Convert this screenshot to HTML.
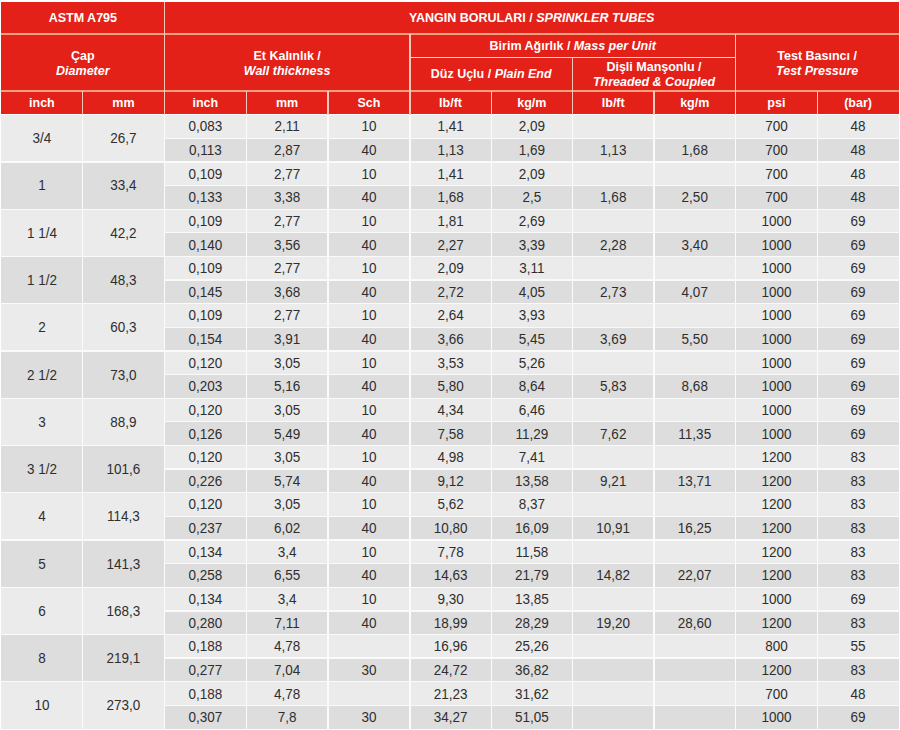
<!DOCTYPE html>
<html><head><meta charset="utf-8"><style>
html,body{margin:0;padding:0;background:#fff;width:900px;height:730px;overflow:hidden}
body{position:relative;font-family:"Liberation Sans",sans-serif}
.b{position:absolute}
.h,.t{position:absolute;display:flex;align-items:center;justify-content:center;text-align:center;white-space:nowrap}
.h{color:#fff;font-weight:bold;font-size:12.5px;line-height:14px}
.h2{line-height:15px;padding-top:2px;box-sizing:border-box}
.h i{font-style:italic}
.t{color:#2e2e2e;font-size:13.5px;line-height:14px}
.t span{display:inline-block;transform:translateY(0.8px) scaleY(1.08)}
</style></head><body>
<div class="b" style="left:1.3px;top:1.5px;width:897.5px;height:113.1px;background:#e32119;"></div>
<div class="b" style="left:164.4px;top:114.6px;width:734.4px;height:23.63px;background:#ebebeb;"></div>
<div class="b" style="left:164.4px;top:138.23px;width:734.4px;height:23.63px;background:#dddddd;"></div>
<div class="b" style="left:164.4px;top:161.86px;width:734.4px;height:23.63px;background:#ebebeb;"></div>
<div class="b" style="left:164.4px;top:185.49px;width:734.4px;height:23.63px;background:#dddddd;"></div>
<div class="b" style="left:164.4px;top:209.12px;width:734.4px;height:23.63px;background:#ebebeb;"></div>
<div class="b" style="left:164.4px;top:232.75px;width:734.4px;height:23.63px;background:#dddddd;"></div>
<div class="b" style="left:164.4px;top:256.38px;width:734.4px;height:23.63px;background:#ebebeb;"></div>
<div class="b" style="left:164.4px;top:280.01px;width:734.4px;height:23.63px;background:#dddddd;"></div>
<div class="b" style="left:164.4px;top:303.64px;width:734.4px;height:23.63px;background:#ebebeb;"></div>
<div class="b" style="left:164.4px;top:327.27px;width:734.4px;height:23.63px;background:#dddddd;"></div>
<div class="b" style="left:164.4px;top:350.9px;width:734.4px;height:23.63px;background:#ebebeb;"></div>
<div class="b" style="left:164.4px;top:374.53px;width:734.4px;height:23.63px;background:#dddddd;"></div>
<div class="b" style="left:164.4px;top:398.16px;width:734.4px;height:23.63px;background:#ebebeb;"></div>
<div class="b" style="left:164.4px;top:421.79px;width:734.4px;height:23.63px;background:#dddddd;"></div>
<div class="b" style="left:164.4px;top:445.42px;width:734.4px;height:23.63px;background:#ebebeb;"></div>
<div class="b" style="left:164.4px;top:469.05px;width:734.4px;height:23.63px;background:#dddddd;"></div>
<div class="b" style="left:164.4px;top:492.68px;width:734.4px;height:23.63px;background:#ebebeb;"></div>
<div class="b" style="left:164.4px;top:516.31px;width:734.4px;height:23.63px;background:#dddddd;"></div>
<div class="b" style="left:164.4px;top:539.94px;width:734.4px;height:23.63px;background:#ebebeb;"></div>
<div class="b" style="left:164.4px;top:563.57px;width:734.4px;height:23.63px;background:#dddddd;"></div>
<div class="b" style="left:164.4px;top:587.2px;width:734.4px;height:23.63px;background:#ebebeb;"></div>
<div class="b" style="left:164.4px;top:610.83px;width:734.4px;height:23.63px;background:#dddddd;"></div>
<div class="b" style="left:164.4px;top:634.46px;width:734.4px;height:23.63px;background:#ebebeb;"></div>
<div class="b" style="left:164.4px;top:658.09px;width:734.4px;height:23.63px;background:#dddddd;"></div>
<div class="b" style="left:164.4px;top:681.72px;width:734.4px;height:23.63px;background:#ebebeb;"></div>
<div class="b" style="left:164.4px;top:705.35px;width:734.4px;height:23.63px;background:#dddddd;"></div>
<div class="b" style="left:1.3px;top:114.6px;width:163.1px;height:47.26px;background:#ebebeb;"></div>
<div class="b" style="left:1.3px;top:161.86px;width:163.1px;height:47.26px;background:#dddddd;"></div>
<div class="b" style="left:1.3px;top:209.12px;width:163.1px;height:47.26px;background:#ebebeb;"></div>
<div class="b" style="left:1.3px;top:256.38px;width:163.1px;height:47.26px;background:#dddddd;"></div>
<div class="b" style="left:1.3px;top:303.64px;width:163.1px;height:47.26px;background:#ebebeb;"></div>
<div class="b" style="left:1.3px;top:350.9px;width:163.1px;height:47.26px;background:#dddddd;"></div>
<div class="b" style="left:1.3px;top:398.16px;width:163.1px;height:47.26px;background:#ebebeb;"></div>
<div class="b" style="left:1.3px;top:445.42px;width:163.1px;height:47.26px;background:#dddddd;"></div>
<div class="b" style="left:1.3px;top:492.68px;width:163.1px;height:47.26px;background:#ebebeb;"></div>
<div class="b" style="left:1.3px;top:539.94px;width:163.1px;height:47.26px;background:#dddddd;"></div>
<div class="b" style="left:1.3px;top:587.2px;width:163.1px;height:47.26px;background:#ebebeb;"></div>
<div class="b" style="left:1.3px;top:634.46px;width:163.1px;height:47.26px;background:#dddddd;"></div>
<div class="b" style="left:1.3px;top:681.72px;width:163.1px;height:47.26px;background:#ebebeb;"></div>
<div class="b" style="left:164.4px;top:137.63px;width:734.4px;height:1.3px;background:#fafafa;"></div>
<div class="b" style="left:1.3px;top:161.26px;width:897.5px;height:1.3px;background:#fafafa;"></div>
<div class="b" style="left:164.4px;top:184.89px;width:734.4px;height:1.3px;background:#fafafa;"></div>
<div class="b" style="left:1.3px;top:208.52px;width:897.5px;height:1.3px;background:#fafafa;"></div>
<div class="b" style="left:164.4px;top:232.15px;width:734.4px;height:1.3px;background:#fafafa;"></div>
<div class="b" style="left:1.3px;top:255.78px;width:897.5px;height:1.3px;background:#fafafa;"></div>
<div class="b" style="left:164.4px;top:279.41px;width:734.4px;height:1.3px;background:#fafafa;"></div>
<div class="b" style="left:1.3px;top:303.04px;width:897.5px;height:1.3px;background:#fafafa;"></div>
<div class="b" style="left:164.4px;top:326.67px;width:734.4px;height:1.3px;background:#fafafa;"></div>
<div class="b" style="left:1.3px;top:350.3px;width:897.5px;height:1.3px;background:#fafafa;"></div>
<div class="b" style="left:164.4px;top:373.93px;width:734.4px;height:1.3px;background:#fafafa;"></div>
<div class="b" style="left:1.3px;top:397.56px;width:897.5px;height:1.3px;background:#fafafa;"></div>
<div class="b" style="left:164.4px;top:421.19px;width:734.4px;height:1.3px;background:#fafafa;"></div>
<div class="b" style="left:1.3px;top:444.82px;width:897.5px;height:1.3px;background:#fafafa;"></div>
<div class="b" style="left:164.4px;top:468.45px;width:734.4px;height:1.3px;background:#fafafa;"></div>
<div class="b" style="left:1.3px;top:492.08px;width:897.5px;height:1.3px;background:#fafafa;"></div>
<div class="b" style="left:164.4px;top:515.71px;width:734.4px;height:1.3px;background:#fafafa;"></div>
<div class="b" style="left:1.3px;top:539.34px;width:897.5px;height:1.3px;background:#fafafa;"></div>
<div class="b" style="left:164.4px;top:562.97px;width:734.4px;height:1.3px;background:#fafafa;"></div>
<div class="b" style="left:1.3px;top:586.6px;width:897.5px;height:1.3px;background:#fafafa;"></div>
<div class="b" style="left:164.4px;top:610.23px;width:734.4px;height:1.3px;background:#fafafa;"></div>
<div class="b" style="left:1.3px;top:633.86px;width:897.5px;height:1.3px;background:#fafafa;"></div>
<div class="b" style="left:164.4px;top:657.49px;width:734.4px;height:1.3px;background:#fafafa;"></div>
<div class="b" style="left:1.3px;top:681.12px;width:897.5px;height:1.3px;background:#fafafa;"></div>
<div class="b" style="left:164.4px;top:704.75px;width:734.4px;height:1.3px;background:#fafafa;"></div>
<div class="b" style="left:1.3px;top:114.1px;width:897.5px;height:1.4px;background:#ffffff;"></div>
<div class="b" style="left:81.85px;top:114.6px;width:1.3px;height:614.38px;background:#fbfbfb;"></div>
<div class="b" style="left:163.75px;top:114.6px;width:1.3px;height:614.38px;background:#fbfbfb;"></div>
<div class="b" style="left:245.55px;top:114.6px;width:1.3px;height:614.38px;background:#fbfbfb;"></div>
<div class="b" style="left:327.25px;top:114.6px;width:1.3px;height:614.38px;background:#fbfbfb;"></div>
<div class="b" style="left:409.25px;top:114.6px;width:1.3px;height:614.38px;background:#fbfbfb;"></div>
<div class="b" style="left:490.55px;top:114.6px;width:1.3px;height:614.38px;background:#fbfbfb;"></div>
<div class="b" style="left:571.85px;top:114.6px;width:1.3px;height:614.38px;background:#fbfbfb;"></div>
<div class="b" style="left:653.35px;top:114.6px;width:1.3px;height:614.38px;background:#fbfbfb;"></div>
<div class="b" style="left:734.85px;top:114.6px;width:1.3px;height:614.38px;background:#fbfbfb;"></div>
<div class="b" style="left:816.65px;top:114.6px;width:1.3px;height:614.38px;background:#fbfbfb;"></div>
<div class="b" style="left:1.3px;top:33px;width:897.5px;height:2px;background:#f2a080;"></div>
<div class="b" style="left:1.3px;top:90px;width:897.5px;height:2px;background:#f2a080;"></div>
<div class="b" style="left:409.9px;top:56.8px;width:325.6px;height:1.4px;background:#fbd8c8;"></div>
<div class="b" style="left:81.85px;top:91px;width:1.3px;height:23.6px;background:#f8c8b8;"></div>
<div class="b" style="left:163.75px;top:1.5px;width:1.3px;height:113.1px;background:#f8c8b8;"></div>
<div class="b" style="left:245.55px;top:91px;width:1.3px;height:23.6px;background:#f8c8b8;"></div>
<div class="b" style="left:327.25px;top:91px;width:1.3px;height:23.6px;background:#f8c8b8;"></div>
<div class="b" style="left:409.25px;top:34px;width:1.3px;height:80.6px;background:#f8c8b8;"></div>
<div class="b" style="left:490.55px;top:91px;width:1.3px;height:23.6px;background:#f8c8b8;"></div>
<div class="b" style="left:571.85px;top:57.5px;width:1.3px;height:57.1px;background:#f8c8b8;"></div>
<div class="b" style="left:653.35px;top:91px;width:1.3px;height:23.6px;background:#f8c8b8;"></div>
<div class="b" style="left:734.85px;top:34px;width:1.3px;height:80.6px;background:#f8c8b8;"></div>
<div class="b" style="left:816.65px;top:91px;width:1.3px;height:23.6px;background:#f8c8b8;"></div>
<div class="h" style="left:1.3px;top:1.5px;width:163.1px;height:32.5px"><span>ASTM A795</span></div>
<div class="h" style="left:164.4px;top:1.5px;width:734.4px;height:32.5px"><span>YANGIN BORULARI / <i>SPRINKLER TUBES</i></span></div>
<div class="h h2" style="left:1.3px;top:34px;width:163.1px;height:57px"><span>Çap<br><i>Diameter</i></span></div>
<div class="h h2" style="left:164.4px;top:34px;width:245.5px;height:57px"><span>Et Kalınlık /<br><i>Wall thickness</i></span></div>
<div class="h" style="left:409.9px;top:34px;width:325.6px;height:23.5px"><span>Birim Ağırlık / <i>Mass per Unit</i></span></div>
<div class="h" style="left:409.9px;top:57.5px;width:162.6px;height:33.5px"><span>Düz Uçlu / <i>Plain End</i></span></div>
<div class="h h2" style="left:572.5px;top:57.5px;width:163px;height:33.5px"><span>Dişli Manşonlu /<br><i>Threaded &amp; Coupled</i></span></div>
<div class="h h2" style="left:735.5px;top:34px;width:163.3px;height:57px"><span>Test Basıncı /<br><i>Test Pressure</i></span></div>
<div class="h" style="left:1.3px;top:91px;width:81.2px;height:23.6px"><span>inch</span></div>
<div class="h" style="left:82.5px;top:91px;width:81.9px;height:23.6px"><span>mm</span></div>
<div class="h" style="left:164.4px;top:91px;width:81.8px;height:23.6px"><span>inch</span></div>
<div class="h" style="left:246.2px;top:91px;width:81.7px;height:23.6px"><span>mm</span></div>
<div class="h" style="left:327.9px;top:91px;width:82px;height:23.6px"><span>Sch</span></div>
<div class="h" style="left:409.9px;top:91px;width:81.3px;height:23.6px"><span>lb/ft</span></div>
<div class="h" style="left:491.2px;top:91px;width:81.3px;height:23.6px"><span>kg/m</span></div>
<div class="h" style="left:572.5px;top:91px;width:81.5px;height:23.6px"><span>lb/ft</span></div>
<div class="h" style="left:654px;top:91px;width:81.5px;height:23.6px"><span>kg/m</span></div>
<div class="h" style="left:735.5px;top:91px;width:81.8px;height:23.6px"><span>psi</span></div>
<div class="h" style="left:817.3px;top:91px;width:81.5px;height:23.6px"><span>(bar)</span></div>
<div class="t" style="left:1.3px;top:114.6px;width:81.2px;height:47.26px"><span>3/4</span></div>
<div class="t" style="left:82.5px;top:114.6px;width:81.9px;height:47.26px"><span>26,7</span></div>
<div class="t" style="left:164.4px;top:114.6px;width:81.8px;height:23.63px"><span>0,083</span></div>
<div class="t" style="left:246.2px;top:114.6px;width:81.7px;height:23.63px"><span>2,11</span></div>
<div class="t" style="left:327.9px;top:114.6px;width:82px;height:23.63px"><span>10</span></div>
<div class="t" style="left:409.9px;top:114.6px;width:81.3px;height:23.63px"><span>1,41</span></div>
<div class="t" style="left:491.2px;top:114.6px;width:81.3px;height:23.63px"><span>2,09</span></div>
<div class="t" style="left:735.5px;top:114.6px;width:81.8px;height:23.63px"><span>700</span></div>
<div class="t" style="left:817.3px;top:114.6px;width:81.5px;height:23.63px"><span>48</span></div>
<div class="t" style="left:164.4px;top:138.23px;width:81.8px;height:23.63px"><span>0,113</span></div>
<div class="t" style="left:246.2px;top:138.23px;width:81.7px;height:23.63px"><span>2,87</span></div>
<div class="t" style="left:327.9px;top:138.23px;width:82px;height:23.63px"><span>40</span></div>
<div class="t" style="left:409.9px;top:138.23px;width:81.3px;height:23.63px"><span>1,13</span></div>
<div class="t" style="left:491.2px;top:138.23px;width:81.3px;height:23.63px"><span>1,69</span></div>
<div class="t" style="left:572.5px;top:138.23px;width:81.5px;height:23.63px"><span>1,13</span></div>
<div class="t" style="left:654px;top:138.23px;width:81.5px;height:23.63px"><span>1,68</span></div>
<div class="t" style="left:735.5px;top:138.23px;width:81.8px;height:23.63px"><span>700</span></div>
<div class="t" style="left:817.3px;top:138.23px;width:81.5px;height:23.63px"><span>48</span></div>
<div class="t" style="left:1.3px;top:161.86px;width:81.2px;height:47.26px"><span>1</span></div>
<div class="t" style="left:82.5px;top:161.86px;width:81.9px;height:47.26px"><span>33,4</span></div>
<div class="t" style="left:164.4px;top:161.86px;width:81.8px;height:23.63px"><span>0,109</span></div>
<div class="t" style="left:246.2px;top:161.86px;width:81.7px;height:23.63px"><span>2,77</span></div>
<div class="t" style="left:327.9px;top:161.86px;width:82px;height:23.63px"><span>10</span></div>
<div class="t" style="left:409.9px;top:161.86px;width:81.3px;height:23.63px"><span>1,41</span></div>
<div class="t" style="left:491.2px;top:161.86px;width:81.3px;height:23.63px"><span>2,09</span></div>
<div class="t" style="left:735.5px;top:161.86px;width:81.8px;height:23.63px"><span>700</span></div>
<div class="t" style="left:817.3px;top:161.86px;width:81.5px;height:23.63px"><span>48</span></div>
<div class="t" style="left:164.4px;top:185.49px;width:81.8px;height:23.63px"><span>0,133</span></div>
<div class="t" style="left:246.2px;top:185.49px;width:81.7px;height:23.63px"><span>3,38</span></div>
<div class="t" style="left:327.9px;top:185.49px;width:82px;height:23.63px"><span>40</span></div>
<div class="t" style="left:409.9px;top:185.49px;width:81.3px;height:23.63px"><span>1,68</span></div>
<div class="t" style="left:491.2px;top:185.49px;width:81.3px;height:23.63px"><span>2,5</span></div>
<div class="t" style="left:572.5px;top:185.49px;width:81.5px;height:23.63px"><span>1,68</span></div>
<div class="t" style="left:654px;top:185.49px;width:81.5px;height:23.63px"><span>2,50</span></div>
<div class="t" style="left:735.5px;top:185.49px;width:81.8px;height:23.63px"><span>700</span></div>
<div class="t" style="left:817.3px;top:185.49px;width:81.5px;height:23.63px"><span>48</span></div>
<div class="t" style="left:1.3px;top:209.12px;width:81.2px;height:47.26px"><span>1 1/4</span></div>
<div class="t" style="left:82.5px;top:209.12px;width:81.9px;height:47.26px"><span>42,2</span></div>
<div class="t" style="left:164.4px;top:209.12px;width:81.8px;height:23.63px"><span>0,109</span></div>
<div class="t" style="left:246.2px;top:209.12px;width:81.7px;height:23.63px"><span>2,77</span></div>
<div class="t" style="left:327.9px;top:209.12px;width:82px;height:23.63px"><span>10</span></div>
<div class="t" style="left:409.9px;top:209.12px;width:81.3px;height:23.63px"><span>1,81</span></div>
<div class="t" style="left:491.2px;top:209.12px;width:81.3px;height:23.63px"><span>2,69</span></div>
<div class="t" style="left:735.5px;top:209.12px;width:81.8px;height:23.63px"><span>1000</span></div>
<div class="t" style="left:817.3px;top:209.12px;width:81.5px;height:23.63px"><span>69</span></div>
<div class="t" style="left:164.4px;top:232.75px;width:81.8px;height:23.63px"><span>0,140</span></div>
<div class="t" style="left:246.2px;top:232.75px;width:81.7px;height:23.63px"><span>3,56</span></div>
<div class="t" style="left:327.9px;top:232.75px;width:82px;height:23.63px"><span>40</span></div>
<div class="t" style="left:409.9px;top:232.75px;width:81.3px;height:23.63px"><span>2,27</span></div>
<div class="t" style="left:491.2px;top:232.75px;width:81.3px;height:23.63px"><span>3,39</span></div>
<div class="t" style="left:572.5px;top:232.75px;width:81.5px;height:23.63px"><span>2,28</span></div>
<div class="t" style="left:654px;top:232.75px;width:81.5px;height:23.63px"><span>3,40</span></div>
<div class="t" style="left:735.5px;top:232.75px;width:81.8px;height:23.63px"><span>1000</span></div>
<div class="t" style="left:817.3px;top:232.75px;width:81.5px;height:23.63px"><span>69</span></div>
<div class="t" style="left:1.3px;top:256.38px;width:81.2px;height:47.26px"><span>1 1/2</span></div>
<div class="t" style="left:82.5px;top:256.38px;width:81.9px;height:47.26px"><span>48,3</span></div>
<div class="t" style="left:164.4px;top:256.38px;width:81.8px;height:23.63px"><span>0,109</span></div>
<div class="t" style="left:246.2px;top:256.38px;width:81.7px;height:23.63px"><span>2,77</span></div>
<div class="t" style="left:327.9px;top:256.38px;width:82px;height:23.63px"><span>10</span></div>
<div class="t" style="left:409.9px;top:256.38px;width:81.3px;height:23.63px"><span>2,09</span></div>
<div class="t" style="left:491.2px;top:256.38px;width:81.3px;height:23.63px"><span>3,11</span></div>
<div class="t" style="left:735.5px;top:256.38px;width:81.8px;height:23.63px"><span>1000</span></div>
<div class="t" style="left:817.3px;top:256.38px;width:81.5px;height:23.63px"><span>69</span></div>
<div class="t" style="left:164.4px;top:280.01px;width:81.8px;height:23.63px"><span>0,145</span></div>
<div class="t" style="left:246.2px;top:280.01px;width:81.7px;height:23.63px"><span>3,68</span></div>
<div class="t" style="left:327.9px;top:280.01px;width:82px;height:23.63px"><span>40</span></div>
<div class="t" style="left:409.9px;top:280.01px;width:81.3px;height:23.63px"><span>2,72</span></div>
<div class="t" style="left:491.2px;top:280.01px;width:81.3px;height:23.63px"><span>4,05</span></div>
<div class="t" style="left:572.5px;top:280.01px;width:81.5px;height:23.63px"><span>2,73</span></div>
<div class="t" style="left:654px;top:280.01px;width:81.5px;height:23.63px"><span>4,07</span></div>
<div class="t" style="left:735.5px;top:280.01px;width:81.8px;height:23.63px"><span>1000</span></div>
<div class="t" style="left:817.3px;top:280.01px;width:81.5px;height:23.63px"><span>69</span></div>
<div class="t" style="left:1.3px;top:303.64px;width:81.2px;height:47.26px"><span>2</span></div>
<div class="t" style="left:82.5px;top:303.64px;width:81.9px;height:47.26px"><span>60,3</span></div>
<div class="t" style="left:164.4px;top:303.64px;width:81.8px;height:23.63px"><span>0,109</span></div>
<div class="t" style="left:246.2px;top:303.64px;width:81.7px;height:23.63px"><span>2,77</span></div>
<div class="t" style="left:327.9px;top:303.64px;width:82px;height:23.63px"><span>10</span></div>
<div class="t" style="left:409.9px;top:303.64px;width:81.3px;height:23.63px"><span>2,64</span></div>
<div class="t" style="left:491.2px;top:303.64px;width:81.3px;height:23.63px"><span>3,93</span></div>
<div class="t" style="left:735.5px;top:303.64px;width:81.8px;height:23.63px"><span>1000</span></div>
<div class="t" style="left:817.3px;top:303.64px;width:81.5px;height:23.63px"><span>69</span></div>
<div class="t" style="left:164.4px;top:327.27px;width:81.8px;height:23.63px"><span>0,154</span></div>
<div class="t" style="left:246.2px;top:327.27px;width:81.7px;height:23.63px"><span>3,91</span></div>
<div class="t" style="left:327.9px;top:327.27px;width:82px;height:23.63px"><span>40</span></div>
<div class="t" style="left:409.9px;top:327.27px;width:81.3px;height:23.63px"><span>3,66</span></div>
<div class="t" style="left:491.2px;top:327.27px;width:81.3px;height:23.63px"><span>5,45</span></div>
<div class="t" style="left:572.5px;top:327.27px;width:81.5px;height:23.63px"><span>3,69</span></div>
<div class="t" style="left:654px;top:327.27px;width:81.5px;height:23.63px"><span>5,50</span></div>
<div class="t" style="left:735.5px;top:327.27px;width:81.8px;height:23.63px"><span>1000</span></div>
<div class="t" style="left:817.3px;top:327.27px;width:81.5px;height:23.63px"><span>69</span></div>
<div class="t" style="left:1.3px;top:350.9px;width:81.2px;height:47.26px"><span>2 1/2</span></div>
<div class="t" style="left:82.5px;top:350.9px;width:81.9px;height:47.26px"><span>73,0</span></div>
<div class="t" style="left:164.4px;top:350.9px;width:81.8px;height:23.63px"><span>0,120</span></div>
<div class="t" style="left:246.2px;top:350.9px;width:81.7px;height:23.63px"><span>3,05</span></div>
<div class="t" style="left:327.9px;top:350.9px;width:82px;height:23.63px"><span>10</span></div>
<div class="t" style="left:409.9px;top:350.9px;width:81.3px;height:23.63px"><span>3,53</span></div>
<div class="t" style="left:491.2px;top:350.9px;width:81.3px;height:23.63px"><span>5,26</span></div>
<div class="t" style="left:735.5px;top:350.9px;width:81.8px;height:23.63px"><span>1000</span></div>
<div class="t" style="left:817.3px;top:350.9px;width:81.5px;height:23.63px"><span>69</span></div>
<div class="t" style="left:164.4px;top:374.53px;width:81.8px;height:23.63px"><span>0,203</span></div>
<div class="t" style="left:246.2px;top:374.53px;width:81.7px;height:23.63px"><span>5,16</span></div>
<div class="t" style="left:327.9px;top:374.53px;width:82px;height:23.63px"><span>40</span></div>
<div class="t" style="left:409.9px;top:374.53px;width:81.3px;height:23.63px"><span>5,80</span></div>
<div class="t" style="left:491.2px;top:374.53px;width:81.3px;height:23.63px"><span>8,64</span></div>
<div class="t" style="left:572.5px;top:374.53px;width:81.5px;height:23.63px"><span>5,83</span></div>
<div class="t" style="left:654px;top:374.53px;width:81.5px;height:23.63px"><span>8,68</span></div>
<div class="t" style="left:735.5px;top:374.53px;width:81.8px;height:23.63px"><span>1000</span></div>
<div class="t" style="left:817.3px;top:374.53px;width:81.5px;height:23.63px"><span>69</span></div>
<div class="t" style="left:1.3px;top:398.16px;width:81.2px;height:47.26px"><span>3</span></div>
<div class="t" style="left:82.5px;top:398.16px;width:81.9px;height:47.26px"><span>88,9</span></div>
<div class="t" style="left:164.4px;top:398.16px;width:81.8px;height:23.63px"><span>0,120</span></div>
<div class="t" style="left:246.2px;top:398.16px;width:81.7px;height:23.63px"><span>3,05</span></div>
<div class="t" style="left:327.9px;top:398.16px;width:82px;height:23.63px"><span>10</span></div>
<div class="t" style="left:409.9px;top:398.16px;width:81.3px;height:23.63px"><span>4,34</span></div>
<div class="t" style="left:491.2px;top:398.16px;width:81.3px;height:23.63px"><span>6,46</span></div>
<div class="t" style="left:735.5px;top:398.16px;width:81.8px;height:23.63px"><span>1000</span></div>
<div class="t" style="left:817.3px;top:398.16px;width:81.5px;height:23.63px"><span>69</span></div>
<div class="t" style="left:164.4px;top:421.79px;width:81.8px;height:23.63px"><span>0,126</span></div>
<div class="t" style="left:246.2px;top:421.79px;width:81.7px;height:23.63px"><span>5,49</span></div>
<div class="t" style="left:327.9px;top:421.79px;width:82px;height:23.63px"><span>40</span></div>
<div class="t" style="left:409.9px;top:421.79px;width:81.3px;height:23.63px"><span>7,58</span></div>
<div class="t" style="left:491.2px;top:421.79px;width:81.3px;height:23.63px"><span>11,29</span></div>
<div class="t" style="left:572.5px;top:421.79px;width:81.5px;height:23.63px"><span>7,62</span></div>
<div class="t" style="left:654px;top:421.79px;width:81.5px;height:23.63px"><span>11,35</span></div>
<div class="t" style="left:735.5px;top:421.79px;width:81.8px;height:23.63px"><span>1000</span></div>
<div class="t" style="left:817.3px;top:421.79px;width:81.5px;height:23.63px"><span>69</span></div>
<div class="t" style="left:1.3px;top:445.42px;width:81.2px;height:47.26px"><span>3 1/2</span></div>
<div class="t" style="left:82.5px;top:445.42px;width:81.9px;height:47.26px"><span>101,6</span></div>
<div class="t" style="left:164.4px;top:445.42px;width:81.8px;height:23.63px"><span>0,120</span></div>
<div class="t" style="left:246.2px;top:445.42px;width:81.7px;height:23.63px"><span>3,05</span></div>
<div class="t" style="left:327.9px;top:445.42px;width:82px;height:23.63px"><span>10</span></div>
<div class="t" style="left:409.9px;top:445.42px;width:81.3px;height:23.63px"><span>4,98</span></div>
<div class="t" style="left:491.2px;top:445.42px;width:81.3px;height:23.63px"><span>7,41</span></div>
<div class="t" style="left:735.5px;top:445.42px;width:81.8px;height:23.63px"><span>1200</span></div>
<div class="t" style="left:817.3px;top:445.42px;width:81.5px;height:23.63px"><span>83</span></div>
<div class="t" style="left:164.4px;top:469.05px;width:81.8px;height:23.63px"><span>0,226</span></div>
<div class="t" style="left:246.2px;top:469.05px;width:81.7px;height:23.63px"><span>5,74</span></div>
<div class="t" style="left:327.9px;top:469.05px;width:82px;height:23.63px"><span>40</span></div>
<div class="t" style="left:409.9px;top:469.05px;width:81.3px;height:23.63px"><span>9,12</span></div>
<div class="t" style="left:491.2px;top:469.05px;width:81.3px;height:23.63px"><span>13,58</span></div>
<div class="t" style="left:572.5px;top:469.05px;width:81.5px;height:23.63px"><span>9,21</span></div>
<div class="t" style="left:654px;top:469.05px;width:81.5px;height:23.63px"><span>13,71</span></div>
<div class="t" style="left:735.5px;top:469.05px;width:81.8px;height:23.63px"><span>1200</span></div>
<div class="t" style="left:817.3px;top:469.05px;width:81.5px;height:23.63px"><span>83</span></div>
<div class="t" style="left:1.3px;top:492.68px;width:81.2px;height:47.26px"><span>4</span></div>
<div class="t" style="left:82.5px;top:492.68px;width:81.9px;height:47.26px"><span>114,3</span></div>
<div class="t" style="left:164.4px;top:492.68px;width:81.8px;height:23.63px"><span>0,120</span></div>
<div class="t" style="left:246.2px;top:492.68px;width:81.7px;height:23.63px"><span>3,05</span></div>
<div class="t" style="left:327.9px;top:492.68px;width:82px;height:23.63px"><span>10</span></div>
<div class="t" style="left:409.9px;top:492.68px;width:81.3px;height:23.63px"><span>5,62</span></div>
<div class="t" style="left:491.2px;top:492.68px;width:81.3px;height:23.63px"><span>8,37</span></div>
<div class="t" style="left:735.5px;top:492.68px;width:81.8px;height:23.63px"><span>1200</span></div>
<div class="t" style="left:817.3px;top:492.68px;width:81.5px;height:23.63px"><span>83</span></div>
<div class="t" style="left:164.4px;top:516.31px;width:81.8px;height:23.63px"><span>0,237</span></div>
<div class="t" style="left:246.2px;top:516.31px;width:81.7px;height:23.63px"><span>6,02</span></div>
<div class="t" style="left:327.9px;top:516.31px;width:82px;height:23.63px"><span>40</span></div>
<div class="t" style="left:409.9px;top:516.31px;width:81.3px;height:23.63px"><span>10,80</span></div>
<div class="t" style="left:491.2px;top:516.31px;width:81.3px;height:23.63px"><span>16,09</span></div>
<div class="t" style="left:572.5px;top:516.31px;width:81.5px;height:23.63px"><span>10,91</span></div>
<div class="t" style="left:654px;top:516.31px;width:81.5px;height:23.63px"><span>16,25</span></div>
<div class="t" style="left:735.5px;top:516.31px;width:81.8px;height:23.63px"><span>1200</span></div>
<div class="t" style="left:817.3px;top:516.31px;width:81.5px;height:23.63px"><span>83</span></div>
<div class="t" style="left:1.3px;top:539.94px;width:81.2px;height:47.26px"><span>5</span></div>
<div class="t" style="left:82.5px;top:539.94px;width:81.9px;height:47.26px"><span>141,3</span></div>
<div class="t" style="left:164.4px;top:539.94px;width:81.8px;height:23.63px"><span>0,134</span></div>
<div class="t" style="left:246.2px;top:539.94px;width:81.7px;height:23.63px"><span>3,4</span></div>
<div class="t" style="left:327.9px;top:539.94px;width:82px;height:23.63px"><span>10</span></div>
<div class="t" style="left:409.9px;top:539.94px;width:81.3px;height:23.63px"><span>7,78</span></div>
<div class="t" style="left:491.2px;top:539.94px;width:81.3px;height:23.63px"><span>11,58</span></div>
<div class="t" style="left:735.5px;top:539.94px;width:81.8px;height:23.63px"><span>1200</span></div>
<div class="t" style="left:817.3px;top:539.94px;width:81.5px;height:23.63px"><span>83</span></div>
<div class="t" style="left:164.4px;top:563.57px;width:81.8px;height:23.63px"><span>0,258</span></div>
<div class="t" style="left:246.2px;top:563.57px;width:81.7px;height:23.63px"><span>6,55</span></div>
<div class="t" style="left:327.9px;top:563.57px;width:82px;height:23.63px"><span>40</span></div>
<div class="t" style="left:409.9px;top:563.57px;width:81.3px;height:23.63px"><span>14,63</span></div>
<div class="t" style="left:491.2px;top:563.57px;width:81.3px;height:23.63px"><span>21,79</span></div>
<div class="t" style="left:572.5px;top:563.57px;width:81.5px;height:23.63px"><span>14,82</span></div>
<div class="t" style="left:654px;top:563.57px;width:81.5px;height:23.63px"><span>22,07</span></div>
<div class="t" style="left:735.5px;top:563.57px;width:81.8px;height:23.63px"><span>1200</span></div>
<div class="t" style="left:817.3px;top:563.57px;width:81.5px;height:23.63px"><span>83</span></div>
<div class="t" style="left:1.3px;top:587.2px;width:81.2px;height:47.26px"><span>6</span></div>
<div class="t" style="left:82.5px;top:587.2px;width:81.9px;height:47.26px"><span>168,3</span></div>
<div class="t" style="left:164.4px;top:587.2px;width:81.8px;height:23.63px"><span>0,134</span></div>
<div class="t" style="left:246.2px;top:587.2px;width:81.7px;height:23.63px"><span>3,4</span></div>
<div class="t" style="left:327.9px;top:587.2px;width:82px;height:23.63px"><span>10</span></div>
<div class="t" style="left:409.9px;top:587.2px;width:81.3px;height:23.63px"><span>9,30</span></div>
<div class="t" style="left:491.2px;top:587.2px;width:81.3px;height:23.63px"><span>13,85</span></div>
<div class="t" style="left:735.5px;top:587.2px;width:81.8px;height:23.63px"><span>1000</span></div>
<div class="t" style="left:817.3px;top:587.2px;width:81.5px;height:23.63px"><span>69</span></div>
<div class="t" style="left:164.4px;top:610.83px;width:81.8px;height:23.63px"><span>0,280</span></div>
<div class="t" style="left:246.2px;top:610.83px;width:81.7px;height:23.63px"><span>7,11</span></div>
<div class="t" style="left:327.9px;top:610.83px;width:82px;height:23.63px"><span>40</span></div>
<div class="t" style="left:409.9px;top:610.83px;width:81.3px;height:23.63px"><span>18,99</span></div>
<div class="t" style="left:491.2px;top:610.83px;width:81.3px;height:23.63px"><span>28,29</span></div>
<div class="t" style="left:572.5px;top:610.83px;width:81.5px;height:23.63px"><span>19,20</span></div>
<div class="t" style="left:654px;top:610.83px;width:81.5px;height:23.63px"><span>28,60</span></div>
<div class="t" style="left:735.5px;top:610.83px;width:81.8px;height:23.63px"><span>1200</span></div>
<div class="t" style="left:817.3px;top:610.83px;width:81.5px;height:23.63px"><span>83</span></div>
<div class="t" style="left:1.3px;top:634.46px;width:81.2px;height:47.26px"><span>8</span></div>
<div class="t" style="left:82.5px;top:634.46px;width:81.9px;height:47.26px"><span>219,1</span></div>
<div class="t" style="left:164.4px;top:634.46px;width:81.8px;height:23.63px"><span>0,188</span></div>
<div class="t" style="left:246.2px;top:634.46px;width:81.7px;height:23.63px"><span>4,78</span></div>
<div class="t" style="left:409.9px;top:634.46px;width:81.3px;height:23.63px"><span>16,96</span></div>
<div class="t" style="left:491.2px;top:634.46px;width:81.3px;height:23.63px"><span>25,26</span></div>
<div class="t" style="left:735.5px;top:634.46px;width:81.8px;height:23.63px"><span>800</span></div>
<div class="t" style="left:817.3px;top:634.46px;width:81.5px;height:23.63px"><span>55</span></div>
<div class="t" style="left:164.4px;top:658.09px;width:81.8px;height:23.63px"><span>0,277</span></div>
<div class="t" style="left:246.2px;top:658.09px;width:81.7px;height:23.63px"><span>7,04</span></div>
<div class="t" style="left:327.9px;top:658.09px;width:82px;height:23.63px"><span>30</span></div>
<div class="t" style="left:409.9px;top:658.09px;width:81.3px;height:23.63px"><span>24,72</span></div>
<div class="t" style="left:491.2px;top:658.09px;width:81.3px;height:23.63px"><span>36,82</span></div>
<div class="t" style="left:735.5px;top:658.09px;width:81.8px;height:23.63px"><span>1200</span></div>
<div class="t" style="left:817.3px;top:658.09px;width:81.5px;height:23.63px"><span>83</span></div>
<div class="t" style="left:1.3px;top:681.72px;width:81.2px;height:47.26px"><span>10</span></div>
<div class="t" style="left:82.5px;top:681.72px;width:81.9px;height:47.26px"><span>273,0</span></div>
<div class="t" style="left:164.4px;top:681.72px;width:81.8px;height:23.63px"><span>0,188</span></div>
<div class="t" style="left:246.2px;top:681.72px;width:81.7px;height:23.63px"><span>4,78</span></div>
<div class="t" style="left:409.9px;top:681.72px;width:81.3px;height:23.63px"><span>21,23</span></div>
<div class="t" style="left:491.2px;top:681.72px;width:81.3px;height:23.63px"><span>31,62</span></div>
<div class="t" style="left:735.5px;top:681.72px;width:81.8px;height:23.63px"><span>700</span></div>
<div class="t" style="left:817.3px;top:681.72px;width:81.5px;height:23.63px"><span>48</span></div>
<div class="t" style="left:164.4px;top:705.35px;width:81.8px;height:23.63px"><span>0,307</span></div>
<div class="t" style="left:246.2px;top:705.35px;width:81.7px;height:23.63px"><span>7,8</span></div>
<div class="t" style="left:327.9px;top:705.35px;width:82px;height:23.63px"><span>30</span></div>
<div class="t" style="left:409.9px;top:705.35px;width:81.3px;height:23.63px"><span>34,27</span></div>
<div class="t" style="left:491.2px;top:705.35px;width:81.3px;height:23.63px"><span>51,05</span></div>
<div class="t" style="left:735.5px;top:705.35px;width:81.8px;height:23.63px"><span>1000</span></div>
<div class="t" style="left:817.3px;top:705.35px;width:81.5px;height:23.63px"><span>69</span></div>
</body></html>
